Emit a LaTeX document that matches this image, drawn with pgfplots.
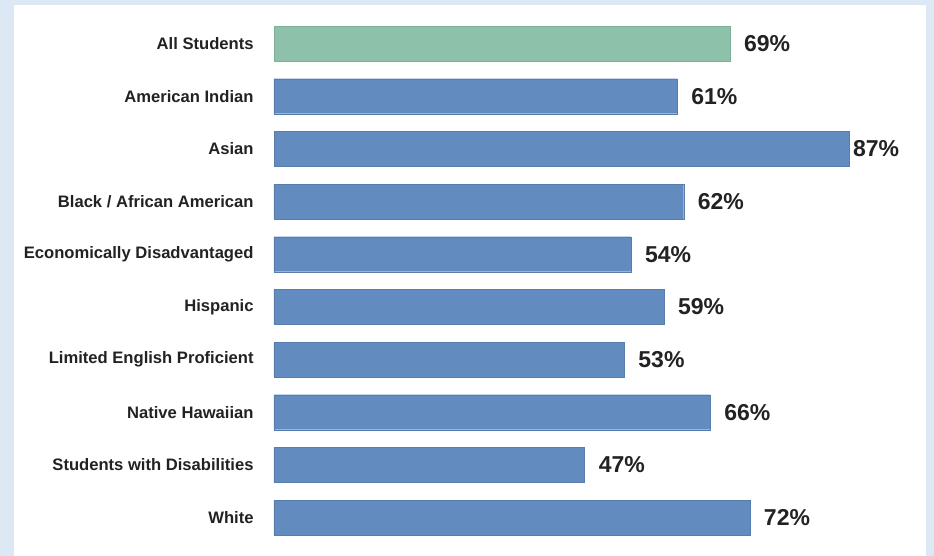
\documentclass[border=0pt]{standalone}
\usepackage{fontspec}
\setmainfont{Liberation Sans}
\usepackage{pgfplots}
\pgfplotsset{compat=1.18}
\definecolor{bgblue}{HTML}{DCE9F5}
\definecolor{barblue}{HTML}{628BBF}
\definecolor{bargreen}{HTML}{8DC1A9}
\definecolor{txt}{HTML}{222222}
\begin{document}
\begin{tikzpicture}[x=1pt,y=1pt]
\useasboundingbox (0,0) rectangle (934,556);
\fill[bgblue] (0,0) rectangle (934,556);
\fill[white] (14,0) rectangle (926,551);
\begin{axis}[
  at={(274pt,12.1pt)}, anchor=south west,
  scale only axis, width=641pt, height=526.7pt,
  xmin=0, xmax=97, ymin=-0.5, ymax=9.5,
  y dir=reverse,
  xbar, bar width=35pt, bar shift=0pt,
  axis line style={draw=none}, tick style={draw=none},
  xtick=\empty,
  ytick={0,...,9},
  yticklabels={All Students, American Indian, Asian, Black / African American, Economically Disadvantaged, Hispanic, Limited English Proficient, Native Hawaiian, Students with Disabilities, White},
  yticklabel style={font=\bfseries\fontsize{16.6}{16.6}\selectfont, text=txt, inner sep=0pt, anchor=east, xshift=-16pt},
  /pgf/number format/assume math mode=true,
  nodes near coords={\pgfmathprintnumber{\pgfplotspointmeta}\%},
  nodes near coords style={font=\bfseries\fontsize{23}{23}\selectfont, text=txt, inner sep=0pt, anchor=west, xshift=14pt},
  clip=false,
]
\addplot[fill=bargreen, draw=bargreen!90!black] coordinates {(69,0)};
\addplot[fill=barblue, draw=barblue!90!black] coordinates {(61,1) (62,3) (54,4) (59,5) (53,6) (66,7) (47,8) (72,9)};
\addplot[fill=barblue, draw=barblue!90!black, nodes near coords style={xshift=-10pt}] coordinates {(87,2)};
\end{axis}
\end{tikzpicture}
\end{document}
